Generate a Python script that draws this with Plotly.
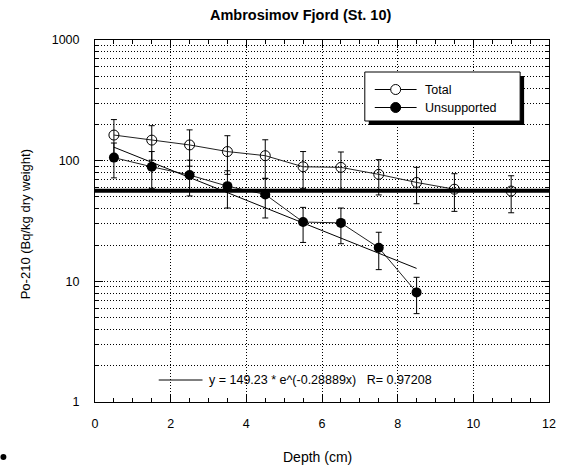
import plotly.graph_objects as go

# ---- data ----
depth_total = [0.5, 1.5, 2.5, 3.5, 4.5, 5.5, 6.5, 7.5, 8.5, 9.5, 11]
po_total = [163, 148, 135, 119, 110, 89, 88, 77, 66, 58, 56]
err_total = [56, 47, 45, 42, 39, 30, 30, 25, 22, 20, 19]

depth_unsup = [0.5, 1.5, 2.5, 3.5, 4.5, 5.5, 6.5, 7.5, 8.5]
po_unsup = [106, 89, 76, 61.5, 52.5, 31, 30.5, 19, 8.1]
err_unsup = [34, 30, 25, 21, 19, 10, 10, 6.5, 2.7]

fit_x = [0.5, 8.5]
fit_y = [129.3, 12.8]
fit_label = "y = 149.23 * e^(-0.28889x)   R= 0.97208"

supported_x = [0, 12]
supported_y = [56.4, 56.4]

series_names = ["Total", "Unsupported"]
x_ticks = [0, 2, 4, 6, 8, 10, 12]
y_ticks = [1, 10, 100, 1000]
y_minor = [m * d for d in (1, 10, 100) for m in range(2, 10)]

FONT = "Arial, Liberation Sans, sans-serif"

# plot area in pixels
L, R, T, B = 95, 551, 40, 402
W, H = 568, 470


def px(x):
    return (x - L) / (R - L)


def py(y):
    return (B - y) / (B - T)


fig = go.Figure()

fig.add_trace(go.Scatter(
    x=depth_total, y=po_total, name=series_names[0], mode="lines+markers", showlegend=False,
    line=dict(color="#222", width=1),
    marker=dict(symbol="circle-open", size=10, color="black", line=dict(width=1, color="black")),
    error_y=dict(type="data", array=err_total, visible=True, color="black", thickness=1, width=3),
))
fig.add_trace(go.Scatter(
    x=depth_unsup, y=po_unsup, name=series_names[1], mode="lines+markers", showlegend=False,
    line=dict(color="#222", width=1),
    marker=dict(symbol="circle", size=10, color="black"),
    error_y=dict(type="data", array=err_unsup, visible=True, color="black", thickness=1, width=3),
))
fig.add_trace(go.Scatter(
    x=fit_x, y=fit_y, mode="lines", showlegend=False,
    line=dict(color="black", width=1), hoverinfo="skip",
))
fig.add_trace(go.Scatter(
    x=supported_x, y=supported_y, mode="lines", showlegend=False,
    line=dict(color="black", width=4), hoverinfo="skip", cliponaxis=False,
))

GRID = dict(showgrid=True, gridcolor="black", gridwidth=1, griddash="1px,2px")

fig.update_xaxes(
    range=[0, 12], tickvals=x_ticks, ticks="inside", ticklen=8, tickcolor="black",
    showline=True, linecolor="black", linewidth=1, mirror="allticks",
    zeroline=False, **GRID,
    minor=dict(dtick=0.5, ticks="inside", ticklen=4, tickcolor="black", showgrid=False),
    tickfont=dict(family=FONT, size=12.5, color="black"),
    ticklabelstandoff=10,
)
fig.update_yaxes(
    type="log", range=[0, 3], tickvals=y_ticks, ticks="inside", ticklen=8, tickcolor="black",
    showline=True, linecolor="black", linewidth=1, mirror="allticks",
    zeroline=False, **GRID,
    minor=dict(tickvals=y_minor, ticks="inside", ticklen=4, tickcolor="black", **GRID),
    tickfont=dict(family=FONT, size=12.5, color="black"),
    ticklabelstandoff=12,
)

# legend box geometry (pixels)
LX0, LX1, LY0, LY1 = 366, 522, 72, 121
row_y = [89.5, 107.5]
samp_x0, samp_x1, mark_x, text_x = 376, 418, 397, 424

annotations = [
    dict(text="<b>Ambrosimov Fjord (St. 10)</b>", x=px(301), y=py(15), xref="paper", yref="paper",
         showarrow=False, font=dict(family=FONT, size=14.5, color="black"), xanchor="center", yanchor="middle"),
    dict(text="Depth (cm)", x=px(318), y=py(457), xref="paper", yref="paper",
         showarrow=False, font=dict(family=FONT, size=14, color="black"), xanchor="center", yanchor="middle"),
    dict(text="Po-210 (Bq/kg dry weight)", x=px(25), y=py(224), xref="paper", yref="paper",
         showarrow=False, textangle=-90, font=dict(family=FONT, size=13, color="black"),
         xanchor="center", yanchor="middle"),
    dict(text=fit_label, x=px(207), y=py(380), xref="paper", yref="paper",
         showarrow=False, font=dict(family=FONT, size=12.5, color="black"), xanchor="left", yanchor="middle"),
]
for name, ry in zip(series_names, row_y):
    annotations.append(dict(text=name, x=px(text_x), y=py(ry), xref="paper", yref="paper",
                            showarrow=False, font=dict(family=FONT, size=12.5, color="black"),
                            xanchor="left", yanchor="middle"))

shapes = [
    # legend shadow + box
    dict(type="rect", xref="paper", yref="paper", x0=px(LX0 + 4), x1=px(LX1 + 4), y0=py(LY1 + 4), y1=py(LY0 + 4),
         fillcolor="black", line=dict(width=0), layer="above"),
    dict(type="rect", xref="paper", yref="paper", x0=px(LX0), x1=px(LX1), y0=py(LY1), y1=py(LY0),
         fillcolor="white", line=dict(width=1, color="black"), layer="above"),
]
for i, ry in enumerate(row_y):
    shapes.append(dict(type="line", xref="paper", yref="paper", x0=px(samp_x0), x1=px(samp_x1),
                       y0=py(ry), y1=py(ry), line=dict(color="black", width=1), layer="above"))
    shapes.append(dict(type="circle", xref="paper", yref="paper", x0=px(mark_x - 5), x1=px(mark_x + 5),
                       y0=py(ry + 5), y1=py(ry - 5), fillcolor="white" if i == 0 else "black",
                       line=dict(width=1, color="black"), layer="above"))
shapes += [
    # fit sample line
    dict(type="line", xref="paper", yref="paper", x0=px(159), x1=px(203), y0=py(380), y1=py(380),
         line=dict(color="black", width=1)),
    # stray dot bottom-left
    dict(type="circle", xref="paper", yref="paper", x0=px(0), x1=px(6), y0=py(460), y1=py(454),
         fillcolor="black", line=dict(width=0)),
]

fig.update_layout(
    width=W, height=H, autosize=False,
    margin=dict(l=L, r=W - R, t=T, b=H - B),
    paper_bgcolor="white", plot_bgcolor="white",
    font=dict(family=FONT, size=12, color="black"),
    showlegend=False,
    annotations=annotations,
    shapes=shapes,
)

fig.write_html("out.html")
